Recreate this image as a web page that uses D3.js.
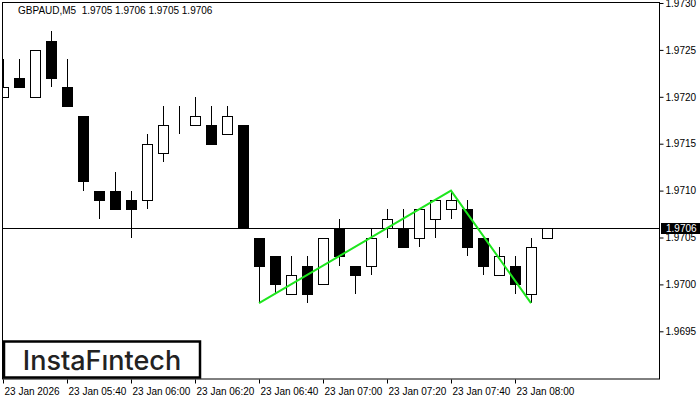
<!DOCTYPE html>
<html>
<head>
<meta charset="utf-8">
<script src="https://cdn.jsdelivr.net/npm/d3@7"></script>
<style>
  body { margin: 0; background: #fff; }
  svg { display: block; }
  text { font-family: "Liberation Sans", Arial, sans-serif; }
</style>
</head>
<body>
<div id="chart"></div>
<script>
// candles, 5 minute bars starting 23 Jan 05:20
var opens  = [1.9720, 1.9722, 1.9720, 1.9726, 1.9721, 1.9718, 1.9710, 1.9710, 1.9709, 1.9709, 1.9714, 1.9718,
              1.9717, 1.9717, 1.9716, 1.9717, 1.9705, 1.9703, 1.9699, 1.9702, 1.9700, 1.9706, 1.9702, 1.9702,
              1.9706, 1.9706, 1.9705, 1.9707, 1.9708, 1.9708, 1.9705, 1.9701, 1.9702, 1.9699, 1.9705];
var highs  = [1.9724, 1.9724, 1.9725, 1.9727, 1.9724, 1.9718, 1.9710, 1.9712, 1.9710, 1.9716, 1.9719, 1.9719,
              1.9720, 1.9719, 1.9719, 1.9717, 1.9705, 1.9703, 1.9703, 1.9703, 1.9705, 1.9707, 1.9702, 1.9706,
              1.9708, 1.9708, 1.9708, 1.9709, 1.9710, 1.9709, 1.9705, 1.9704, 1.9703, 1.9705, 1.9706];
var lows   = [1.9720, 1.9721, 1.9720, 1.9721, 1.9719, 1.9710, 1.9707, 1.9708, 1.9705, 1.9708, 1.9713, 1.9716,
              1.9717, 1.9715, 1.9716, 1.9706, 1.9698, 1.9699, 1.9699, 1.9698, 1.9700, 1.9702, 1.9699, 1.9701,
              1.9705, 1.9704, 1.9704, 1.9705, 1.9707, 1.9703, 1.9701, 1.9701, 1.9699, 1.9698, 1.9705];
var closes = [1.9721, 1.9721, 1.9725, 1.9722, 1.9719, 1.9711, 1.9709, 1.9708, 1.9708, 1.9715, 1.9717, 1.9718,
              1.9718, 1.9715, 1.9718, 1.9706, 1.9702, 1.9700, 1.9701, 1.9699, 1.9705, 1.9703, 1.9701, 1.9705,
              1.9707, 1.9704, 1.9708, 1.9709, 1.9709, 1.9704, 1.9702, 1.9703, 1.9700, 1.9704, 1.9706];

// pattern line (bar index, price)
var patternIdx    = [16, 28, 33];
var patternPrices = [1.9698, 1.9710, 1.9698];

var xTickIdx    = [0, 4, 8, 12, 16, 20, 24, 28, 32];
var xTickLabels = ['23 Jan 2026', '23 Jan 05:40', '23 Jan 06:00', '23 Jan 06:20', '23 Jan 06:40',
                   '23 Jan 07:00', '23 Jan 07:20', '23 Jan 07:40', '23 Jan 08:00'];
var yTicks = [1.9695, 1.9700, 1.9705, 1.9710, 1.9715, 1.9720, 1.9725, 1.9730];
var lastPrice = 1.9706;
var title = 'GBPAUD,M5  1.9705 1.9706 1.9705 1.9706';

var W = 700, H = 400;
var pl = 2, pr = 660, pt = 3, pb = 379;

var svg = d3.select('#chart').append('svg')
    .attr('width', W).attr('height', H);

var x = d3.scaleLinear().domain([0, 1]).range([3, 19]);
var y = d3.scaleLinear().domain([1.9730, 1.9730 - (pb - pt) / 93800]).range([pt, pb]);

var data = opens.map(function (o, i) {
    return {i: i, o: o, h: highs[i], l: lows[i], c: closes[i]};
});

svg.append('defs').append('clipPath').attr('id', 'clip')
    .append('rect').attr('x', pl + 1).attr('y', pt).attr('width', pr - pl - 1).attr('height', pb - pt);

var g = svg.append('g').attr('clip-path', 'url(#clip)');

// last price line
g.append('line')
    .attr('x1', pl).attr('x2', pr)
    .attr('y1', Math.round(y(lastPrice)) + 0.5).attr('y2', Math.round(y(lastPrice)) + 0.5)
    .attr('stroke', '#000').attr('stroke-width', 1);

var cw = 5;
var candles = g.selectAll('.candle').data(data).enter().append('g').attr('class', 'candle');
candles.append('line')
    .attr('x1', function (d) { return Math.round(x(d.i)) + 0.5; })
    .attr('x2', function (d) { return Math.round(x(d.i)) + 0.5; })
    .attr('y1', function (d) { return Math.round(y(d.h)); })
    .attr('y2', function (d) { return Math.round(y(d.l)); })
    .attr('stroke', '#000');
candles.append('rect')
    .attr('x', function (d) { return Math.round(x(d.i)) - cw + 0.5; })
    .attr('width', cw * 2)
    .attr('y', function (d) { return Math.round(y(Math.max(d.o, d.c))) + 0.5; })
    .attr('height', function (d) { return Math.max(0, Math.round(y(Math.min(d.o, d.c))) - Math.round(y(Math.max(d.o, d.c)))); })
    .attr('fill', function (d) { return d.c < d.o ? '#000' : '#fff'; })
    .attr('stroke', '#000').attr('stroke-width', 1);

// pattern line
var line = d3.line()
    .x(function (d) { return x(d[0]); })
    .y(function (d) { return y(d[1]); });
g.append('path')
    .attr('d', line(patternIdx.map(function (v, k) { return [v, patternPrices[k]]; })))
    .attr('fill', 'none').attr('stroke', '#1ee61e').attr('stroke-width', 2);

// frame
svg.append('rect')
    .attr('x', pl + 0.5).attr('y', pt - 0.5)
    .attr('width', pr - pl - 1).attr('height', pb - pt + 0.5)
    .attr('fill', 'none').attr('stroke', '#000');

// y axis
var yAxis = svg.append('g')
    .attr('transform', 'translate(' + (pr - 0.5) + ',0)')
    .call(d3.axisRight(y).tickValues(yTicks).tickSize(4).tickPadding(2).tickFormat(d3.format('.4f')));
yAxis.select('.domain').remove();
yAxis.selectAll('text').attr('font-size', 10).attr('fill', '#000').style('font-family', '"Liberation Sans", Arial, sans-serif');

// last price label
svg.append('rect')
    .attr('x', pr + 1).attr('y', Math.round(y(lastPrice)) - 5).attr('width', W - pr - 1).attr('height', 11)
    .attr('fill', '#000');
svg.append('text')
    .attr('x', pr + 6).attr('y', Math.round(y(lastPrice)) + 4)
    .attr('font-size', 10).attr('fill', '#fff')
    .text(d3.format('.4f')(lastPrice));

// x axis
var xAxis = svg.append('g')
    .attr('transform', 'translate(0,' + (pb + 0.5) + ')')
    .call(d3.axisBottom(x).tickValues(xTickIdx).tickSize(4).tickPadding(4)
        .tickFormat(function (d, k) { return xTickLabels[k]; }));
xAxis.select('.domain').remove();
xAxis.selectAll('text')
    .attr('text-anchor', 'start').attr('dx', 1)
    .attr('font-size', 10).attr('fill', '#000')
    .style('font-family', '"Liberation Sans", Arial, sans-serif');

// title
svg.append('text')
    .attr('x', 18).attr('y', 14)
    .attr('font-size', 10).attr('fill', '#000')
    .style('white-space', 'pre')
    .text(title);

// logo
svg.append('rect')
    .attr('x', 4).attr('y', 341.5).attr('width', 196).attr('height', 36)
    .attr('fill', '#fff').attr('stroke', '#000').attr('stroke-width', 2.5);
svg.append('text')
    .attr('x', 102).attr('y', 369.5)
    .attr('text-anchor', 'middle')
    .attr('font-size', 27).attr('font-weight', 500).attr('fill', '#222')
    .style('font-family', 'Inter, "Noto Sans", sans-serif')
    .text('InstaFıntech');
</script>
</body>
</html>
